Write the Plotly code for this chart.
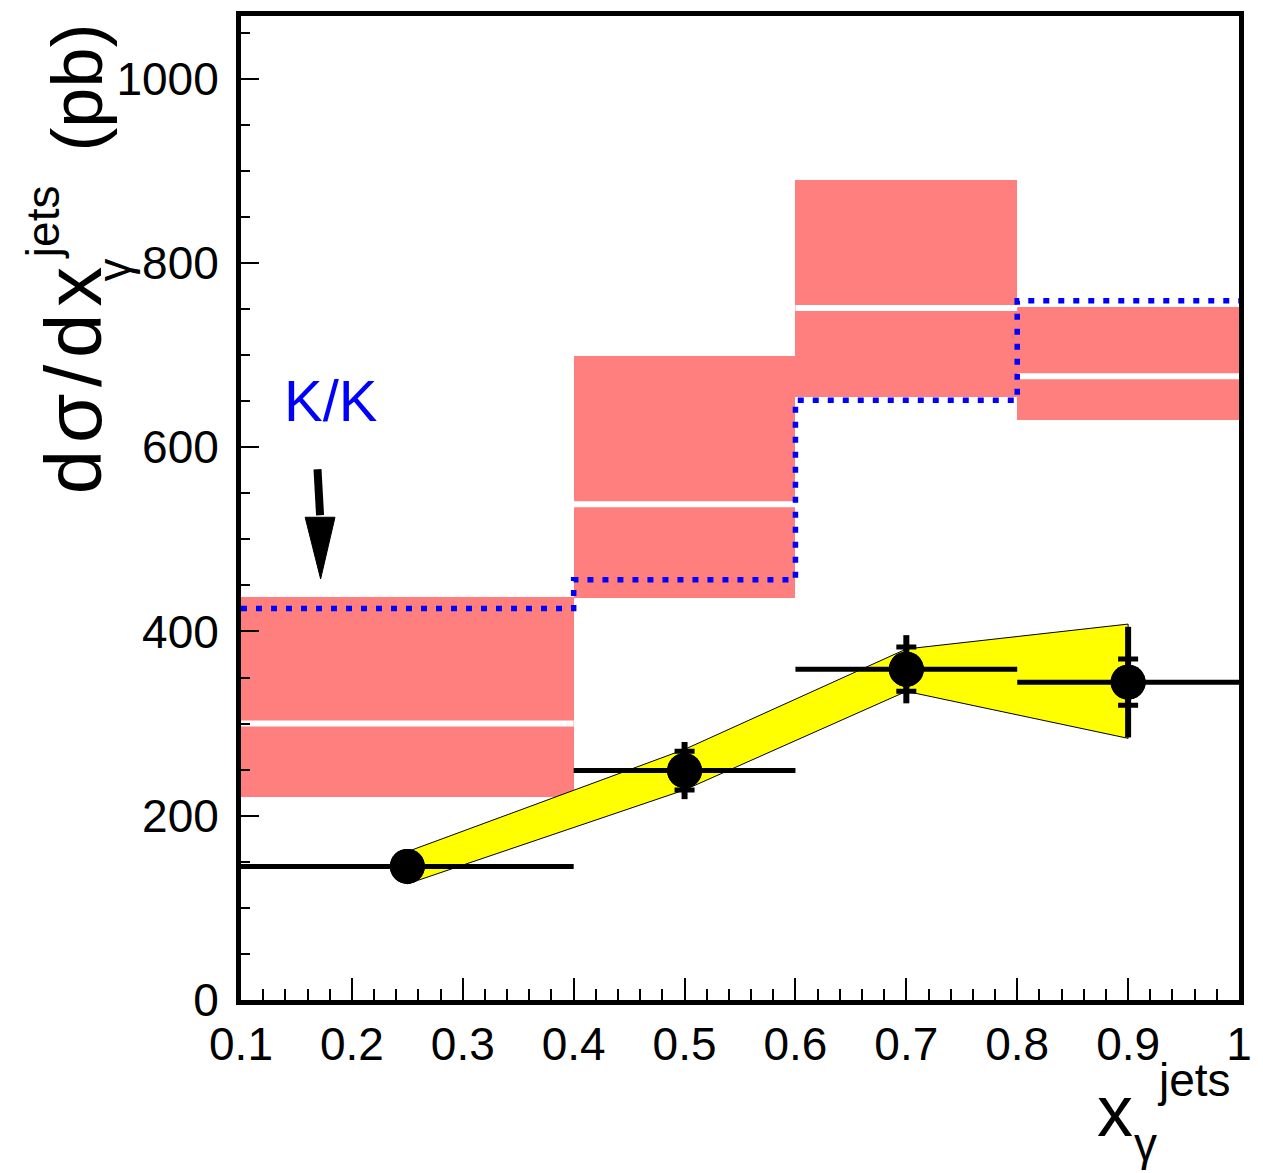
import plotly.graph_objects as go

# ---- data ----
bin_lo = [0.1, 0.4, 0.6, 0.8]
bin_hi = [0.4, 0.6, 0.8, 1.0]
theory_lo = [220, 436, 655, 629]
theory_hi = [437, 699, 890, 752]
theory_central = [300, 538, 751, 677]
kk_values = [425, 456, 651, 759]

data_x = [0.25, 0.5, 0.7, 0.9]
data_y = [145, 249, 359, 345]
stat_err = [10, 21, 24, 25]
tot_err = [16, 31, 37, 60]

band_x = [0.25, 0.5, 0.7, 0.9]
band_hi = [161, 272, 381, 408]
band_lo = [126, 228, 335, 284]

x_tickvals = [0.1, 0.2, 0.3, 0.4, 0.5, 0.6, 0.7, 0.8, 0.9, 1.0]
x_ticktext = ["0.1", "0.2", "0.3", "0.4", "0.5", "0.6", "0.7", "0.8", "0.9", "1"]
y_tickvals = [0, 200, 400, 600, 800, 1000]
y_ticktext = ["0", "200", "400", "600", "800", "1000"]

arrow_tail = (0.169, 576)
arrow_tip = (0.1718, 457)
label_pos = (0.181, 651)

FONT = "Liberation Sans"
X_RANGE = [0.1, 1.0]
Y_RANGE = [0, 1068]
M_L, M_R, M_T, M_B = 241, 18, 11, 173
PLOT_W, PLOT_H = 1263 - M_L - M_R, 1173 - M_T - M_B
px_x = PLOT_W / (X_RANGE[1] - X_RANGE[0])
px_y = PLOT_H / (Y_RANGE[1] - Y_RANGE[0])

fig = go.Figure()

# red theory boxes
fig.add_trace(go.Bar(
    x=[(a + b) / 2 for a, b in zip(bin_lo, bin_hi)],
    y=[h - l for h, l in zip(theory_hi, theory_lo)],
    base=theory_lo,
    width=[b - a for a, b in zip(bin_lo, bin_hi)],
    marker=dict(color="#FF7F7F", line=dict(width=0)),
    hoverinfo="skip", showlegend=False,
))

# white central lines
wx, wy = [], []
for a, b, c in zip(bin_lo, bin_hi, theory_central):
    wx += [a, b, None]
    wy += [c, c, None]
fig.add_trace(go.Scatter(x=wx, y=wy, mode="lines",
                         line=dict(color="white", width=6),
                         hoverinfo="skip", showlegend=False))

# blue dotted step histogram
sx, sy = [], []
for a, b, v in zip(bin_lo, bin_hi, kk_values):
    sx += [a, b]
    sy += [v, v]
fig.add_trace(go.Scatter(x=sx, y=sy, mode="lines",
                         line=dict(color="#0000FF", width=5.5, dash="6px,9px"),
                         hoverinfo="skip", showlegend=False))

# yellow band
fig.add_trace(go.Scatter(
    x=band_x + band_x[::-1] + [band_x[0]],
    y=band_hi + band_lo[::-1] + [band_hi[0]],
    mode="lines", fill="toself", fillcolor="#FFFF00",
    line=dict(color="black", width=1),
    hoverinfo="skip", showlegend=False))

# data: total errors + x bins
fig.add_trace(go.Scatter(
    x=data_x, y=data_y, mode="markers",
    marker=dict(color="black", size=35),
    error_x=dict(type="data", symmetric=False,
                 array=[b - x for b, x in zip(bin_hi, data_x)],
                 arrayminus=[x - a for a, x in zip(bin_lo, data_x)],
                 color="black", thickness=5, width=0),
    error_y=dict(type="data", array=tot_err, color="black", thickness=6, width=0),
    hoverinfo="skip", showlegend=False))

# stat error caps
fig.add_trace(go.Scatter(
    x=data_x, y=data_y, mode="markers",
    marker=dict(color="black", size=35),
    error_y=dict(type="data", array=stat_err, color="black", thickness=5, width=10),
    hoverinfo="skip", showlegend=False))

# arrow
head_len = 62 / px_y
head_hw = 15 / px_x
base_y = arrow_tip[1] + head_len
fig.add_trace(go.Scatter(x=[arrow_tail[0], arrow_tip[0] - 0.0005], y=[arrow_tail[1], base_y + 2 / px_y],
                         mode="lines", line=dict(color="black", width=8),
                         hoverinfo="skip", showlegend=False))
fig.add_trace(go.Scatter(
    x=[arrow_tip[0] - head_hw - 0.0005, arrow_tip[0] + head_hw - 0.0005, arrow_tip[0], arrow_tip[0] - head_hw - 0.0005],
    y=[base_y, base_y, arrow_tip[1], base_y],
    mode="lines", fill="toself", fillcolor="black", line=dict(color="black", width=1),
    hoverinfo="skip", showlegend=False))

annotations = [
    dict(x=label_pos[0], y=label_pos[1], xref="x", yref="y", text="K/K", showarrow=False,
         font=dict(family=FONT, size=58, color="#0000FF")),
]

def pp(px, py):
    return (px - M_L) / PLOT_W, (1173 - M_B - py) / PLOT_H

def add_txt(px, py, text, size, angle=0):
    xp, yp = pp(px, py)
    annotations.append(dict(x=xp, y=yp, xref="paper", yref="paper", text=text,
                            showarrow=False, textangle=angle,
                            xanchor="center", yanchor="middle",
                            font=dict(family=FONT, size=size, color="black")))

# y title pieces
add_txt(72, 378, "d\u200aσ\u200a/\u200ad\u200ax", 80, -90)
add_txt(113, 266, "γ", 46, -90)
add_txt(42, 218, "jets", 46, -90)
add_txt(76, 83, "(pb)", 72, -90)
# x title pieces
add_txt(1120, 1112, "x", 72)
add_txt(1151, 1145, "γ", 46)
add_txt(1200, 1080, "jets", 46)

fig.update_layout(
    width=1263, height=1173,
    margin=dict(l=M_L, r=M_R, t=M_T, b=M_B),
    paper_bgcolor="white", plot_bgcolor="white",
    barmode="overlay", bargap=0,
    annotations=annotations,
    font=dict(family=FONT, color="black"),
    xaxis=dict(range=X_RANGE, showgrid=False, zeroline=False,
               showline=True, linecolor="black", linewidth=5, mirror=True,
               ticks="inside", ticklen=22, tickwidth=2, tickcolor="black",
               tickvals=x_tickvals, ticktext=x_ticktext,
               tickfont=dict(family=FONT, size=46),
               minor=dict(ticks="inside", ticklen=11, tickwidth=1.5, tickcolor="black", dtick=0.02, tick0=0.1)),
    yaxis=dict(range=Y_RANGE, showgrid=False, zeroline=False,
               showline=True, linecolor="black", linewidth=5, mirror=True,
               ticks="inside", ticklen=18, tickwidth=2, tickcolor="black",
               tickvals=y_tickvals, ticktext=y_ticktext,
               tickfont=dict(family=FONT, size=46),
               ticklabelstandoff=8,
               minor=dict(ticks="inside", ticklen=9, tickwidth=1.5, tickcolor="black", dtick=50, tick0=0)),
)

fig.write_html("out.html")
